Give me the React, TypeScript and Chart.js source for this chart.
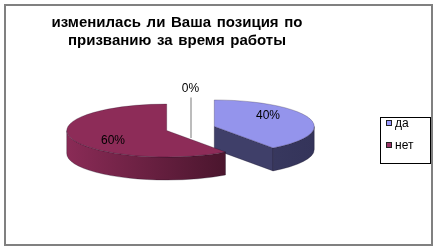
import React, { useEffect, useRef } from "react";
import { Chart, registerables } from "chart.js";

Chart.register(...registerables);

// Survey question (two title lines) and answers
const titleLines = ["изменилась ли Ваша позиция по", "призванию за время работы"];
const categories = ["да", "нет", ""];
const shares = [40, 60, 0];
const legendLabels = ["да", "нет"];

// Palette: top face, side wall (light -> dark), cut face, legend swatch
const topColors = ["#9494ec", "#8d2c58", "#a0a0a0"];
const wallLight = ["#45456f", "#8a2b56", "#808080"];
const wallDark = ["#34345a", "#3a1023", "#606060"];
const cutColors = ["#3f3f69", "#5a1a38", "#707070"];
const swatchColors = ["#9999ff", "#993366"];

const FONT = '"Liberation Sans", Arial, sans-serif';
const TILT = 0.265; // vertical squash of the pie disc
const DEPTH = 23; // thickness of the disc in px
const EXPLODE = 25; // distance each slice is pulled out
const WORD_GAP = 1.5; // extra spacing between title words

type Slice = {
  i: number;
  s: number;
  e: number;
  mid: number;
  rx: number;
  ry: number;
  cx: number;
  cy: number;
};

// Parts of [s,e] that lie on the front half of the disc (sin >= 0)
function frontIntervals(s: number, e: number): [number, number][] {
  const out: [number, number][] = [];
  for (let k = -2; k <= 2; k++) {
    const lo = Math.max(s, 2 * Math.PI * k);
    const hi = Math.min(e, 2 * Math.PI * k + Math.PI);
    if (hi > lo + 1e-6) out.push([lo, hi]);
  }
  return out;
}

// Centered text line with widened gaps between words
function spacedLine(ctx: CanvasRenderingContext2D, text: string, cx: number, y: number) {
  const words = text.split(" ");
  const space = ctx.measureText(" ").width + WORD_GAP;
  const widths = words.map((w) => ctx.measureText(w).width);
  const total = widths.reduce((a, b) => a + b, 0) + space * (words.length - 1);
  let x = cx - total / 2;
  ctx.textAlign = "left";
  words.forEach((w, k) => {
    ctx.fillText(w, x, y);
    x += widths[k] + space;
  });
}

const pie3d = {
  id: "pie3d",
  beforeDatasetsDraw(chart: any) {
    const ctx: CanvasRenderingContext2D = chart.ctx;
    const meta = chart.getDatasetMeta(0);
    const total = shares.reduce((a, b) => a + b, 0);

    const slices: Slice[] = meta.data.map((arc: any, i: number) => {
      const p = arc.getProps(["x", "y", "startAngle", "endAngle", "outerRadius"], true);
      const mid = (p.startAngle + p.endAngle) / 2;
      const rx = p.outerRadius;
      const ry = rx * TILT;
      return {
        i,
        s: p.startAngle,
        e: p.endAngle,
        mid,
        rx,
        ry,
        cx: p.x + EXPLODE * Math.cos(mid),
        cy: p.y + EXPLODE * TILT * Math.sin(mid),
      };
    });

    ctx.save();

    // Back slices first, front slices last
    const order = slices
      .filter((sl) => sl.e - sl.s > 1e-6)
      .sort((a, b) => Math.sin(a.mid) - Math.sin(b.mid));

    for (const sl of order) {
      const { cx, cy, rx, ry, s, e, i } = sl;
      const px = (a: number) => cx + rx * Math.cos(a);
      const py = (a: number) => cy + ry * Math.sin(a);

      // radial cut faces
      const faces: number[] = [];
      if (Math.cos(s) < -1e-6) faces.push(s);
      if (Math.cos(e) > 1e-6) faces.push(e);
      for (const a of faces) {
        ctx.beginPath();
        ctx.moveTo(cx, cy);
        ctx.lineTo(px(a), py(a));
        ctx.lineTo(px(a), py(a) + DEPTH);
        ctx.lineTo(cx, cy + DEPTH);
        ctx.closePath();
        ctx.fillStyle = cutColors[i];
        ctx.fill();
        ctx.strokeStyle = "rgba(20,10,30,0.35)";
        ctx.lineWidth = 0.8;
        ctx.stroke();
      }

      // outer wall
      for (const [a1, a2] of frontIntervals(s, e)) {
        const g = ctx.createLinearGradient(cx - rx, 0, cx + rx, 0);
        g.addColorStop(0, wallLight[i]);
        g.addColorStop(1, wallDark[i]);
        ctx.beginPath();
        ctx.ellipse(cx, cy, rx, ry, 0, a1, a2, false);
        ctx.lineTo(px(a2), py(a2) + DEPTH);
        ctx.ellipse(cx, cy + DEPTH, rx, ry, 0, a2, a1, true);
        ctx.closePath();
        ctx.fillStyle = g;
        ctx.fill();
        ctx.strokeStyle = "rgba(20,10,30,0.35)";
        ctx.lineWidth = 0.8;
        ctx.stroke();
      }

      // top face
      ctx.beginPath();
      ctx.moveTo(cx, cy);
      ctx.ellipse(cx, cy, rx, ry, 0, s, e, false);
      ctx.closePath();
      ctx.fillStyle = topColors[i];
      ctx.fill();
      ctx.strokeStyle = "rgba(20,10,30,0.3)";
      ctx.lineWidth = 0.8;
      ctx.stroke();
    }

    // percentage labels
    ctx.font = `12px ${FONT}`;
    ctx.fillStyle = "#000";
    ctx.textAlign = "center";
    ctx.textBaseline = "middle";
    for (const sl of slices) {
      const pct = Math.round((shares[sl.i] / total) * 100) + "%";
      if (sl.e - sl.s > 1e-6) {
        const lx = sl.cx + 0.565 * sl.rx * Math.cos(sl.mid);
        const ly = sl.cy + 1.28 * sl.ry * Math.sin(sl.mid);
        ctx.fillText(pct, lx, ly);
      } else {
        // empty slice: label above the disc with a leader line
        const lx = sl.cx + Math.cos(sl.mid) * sl.rx;
        const x = Math.round(lx) + 0.5;
        ctx.strokeStyle = "#a6a6a6";
        ctx.lineWidth = 1.5;
        ctx.beginPath();
        ctx.moveTo(x + 0.5, sl.cy - sl.ry + 2);
        ctx.lineTo(x + 0.5, sl.cy + 16);
        ctx.stroke();
        ctx.fillText(pct, x, sl.cy - sl.ry - 7);
      }
    }

    ctx.restore();
    return false;
  },
  afterDraw(chart: any) {
    const ctx: CanvasRenderingContext2D = chart.ctx;
    ctx.save();

    // outer frame
    ctx.strokeStyle = "#808080";
    ctx.lineWidth = 2;
    ctx.strokeRect(5, 5, 427, 240);

    // title
    ctx.fillStyle = "#000";
    ctx.font = `bold 15px ${FONT}`;
    ctx.textBaseline = "alphabetic";
    titleLines.forEach((line, k) => spacedLine(ctx, line, 177, 27 + k * 18));

    // legend
    ctx.strokeStyle = "#000";
    ctx.lineWidth = 1;
    ctx.strokeRect(380.5, 117.5, 50, 46);
    ctx.font = `12px ${FONT}`;
    ctx.textAlign = "left";
    ctx.textBaseline = "middle";
    legendLabels.forEach((lab, k) => {
      const y = 123 + k * 22;
      ctx.fillStyle = swatchColors[k];
      ctx.fillRect(386, y - 3, 6, 6);
      ctx.strokeStyle = "#222";
      ctx.strokeRect(386.5, y - 2.5, 5, 5);
      ctx.fillStyle = "#000";
      ctx.fillText(lab, 395, y + 1);
    });

    ctx.restore();
  },
};

export default function App() {
  const ref = useRef<HTMLCanvasElement | null>(null);

  useEffect(() => {
    if (!ref.current) return;
    const chart = new Chart(ref.current, {
      type: "pie",
      data: {
        labels: categories,
        datasets: [
          {
            data: shares,
            backgroundColor: topColors,
            borderWidth: 0,
          },
        ],
      },
      options: {
        animation: false,
        responsive: false,
        layout: { padding: { left: 90.5, right: 147.5, top: 28.5, bottom: 23.5 } },
        plugins: {
          legend: { display: false },
          tooltip: { enabled: false },
          title: { display: false },
        },
      },
      plugins: [pie3d],
    });
    return () => chart.destroy();
  }, []);

  return (
    <div style={{ position: "fixed", left: 0, top: 0, width: 438, height: 252, background: "#fff" }}>
      <canvas ref={ref} width={438} height={252} style={{ display: "block" }} />
    </div>
  );
}
